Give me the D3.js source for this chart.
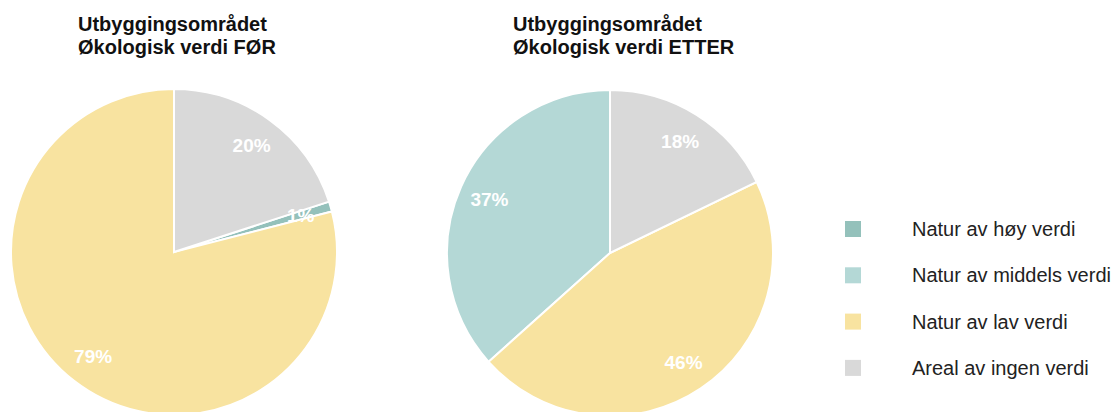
<!DOCTYPE html>
<html>
<head>
<meta charset="utf-8">
<script src="https://cdn.jsdelivr.net/npm/d3@7"></script>
<style>
  body { margin: 0; background: #fff; }
  svg { display: block; }
</style>
</head>
<body>
<div id="chart"></div>
<script>
// categories, in legend order
const categories = ["Natur av høy verdi", "Natur av middels verdi", "Natur av lav verdi", "Areal av ingen verdi"];
const colors = ["#94c1bb", "#b4d8d6", "#f8e3a0", "#d9d9d9"];

// slices are drawn clockwise from 12 o'clock in this order
const sliceOrder = ["Areal av ingen verdi", "Natur av høy verdi", "Natur av lav verdi", "Natur av middels verdi"];

const valuesFor = [1, 0, 79, 20];      // høy, middels, lav, ingen
const valuesEtter = [0, 37, 46, 18];

const titlesFor = ["Utbyggingsområdet", "Økologisk verdi FØR"];
const titlesEtter = ["Utbyggingsområdet", "Økologisk verdi ETTER"];

const width = 1117, height = 412;
const radius = 163;

const svg = d3.select("#chart").append("svg")
  .attr("width", width).attr("height", height)
  .style("font-family", "'Liberation Sans', Arial, sans-serif");

const color = d3.scaleOrdinal().domain(categories).range(colors);

const pie = d3.pie()
  .value(d => d.value)
  .sort((a, b) => sliceOrder.indexOf(a.key) - sliceOrder.indexOf(b.key));

const arc = d3.arc().innerRadius(0).outerRadius(radius);
const labelArc = d3.arc().innerRadius(radius * 0.81).outerRadius(radius * 0.81);

function drawPie(cx, cy, values, titles, titleX) {
  const data = categories.map((k, i) => ({key: k, value: values[i]}));
  const g = svg.append("g").attr("transform", `translate(${cx},${cy})`);

  const arcs = pie(data).filter(d => d.data.value > 0);

  g.selectAll("path")
    .data(arcs)
    .enter()
    .append("path")
      .attr("d", arc)
      .attr("fill", d => color(d.data.key))
      .attr("stroke", "#fff")
      .attr("stroke-width", 2);

  g.selectAll("text.lbl")
    .data(arcs)
    .enter()
    .append("text")
      .attr("class", "lbl")
      .attr("transform", d => `translate(${labelArc.centroid(d)})`)
      .attr("text-anchor", "middle")
      .attr("dy", "0.35em")
      .attr("fill", "#fff")
      .attr("font-weight", "bold")
      .attr("font-size", "19px")
      .text(d => d.data.value + "%");

  svg.append("text")
    .attr("x", titleX)
    .attr("y", 31)
    .attr("font-weight", "bold")
    .attr("font-size", "20px")
    .attr("fill", "#111")
    .selectAll("tspan")
    .data(titles)
    .enter()
    .append("tspan")
      .attr("x", titleX)
      .attr("dy", (d, i) => i === 0 ? 0 : 23)
      .text(d => d);
}

drawPie(174, 252, valuesFor, titlesFor, 78);
drawPie(610, 253, valuesEtter, titlesEtter, 513);

// legend
const legend = svg.append("g").attr("transform", "translate(845,221)");
const item = legend.selectAll("g")
  .data(categories)
  .enter()
  .append("g")
    .attr("transform", (d, i) => `translate(0,${i * 46.3})`);

item.append("rect")
  .attr("width", 16).attr("height", 16)
  .attr("fill", d => color(d));

item.append("text")
  .attr("x", 67)
  .attr("y", 8)
  .attr("dy", "0.35em")
  .attr("font-size", "20px")
  .attr("fill", "#222")
  .text(d => d);
</script>
</body>
</html>
